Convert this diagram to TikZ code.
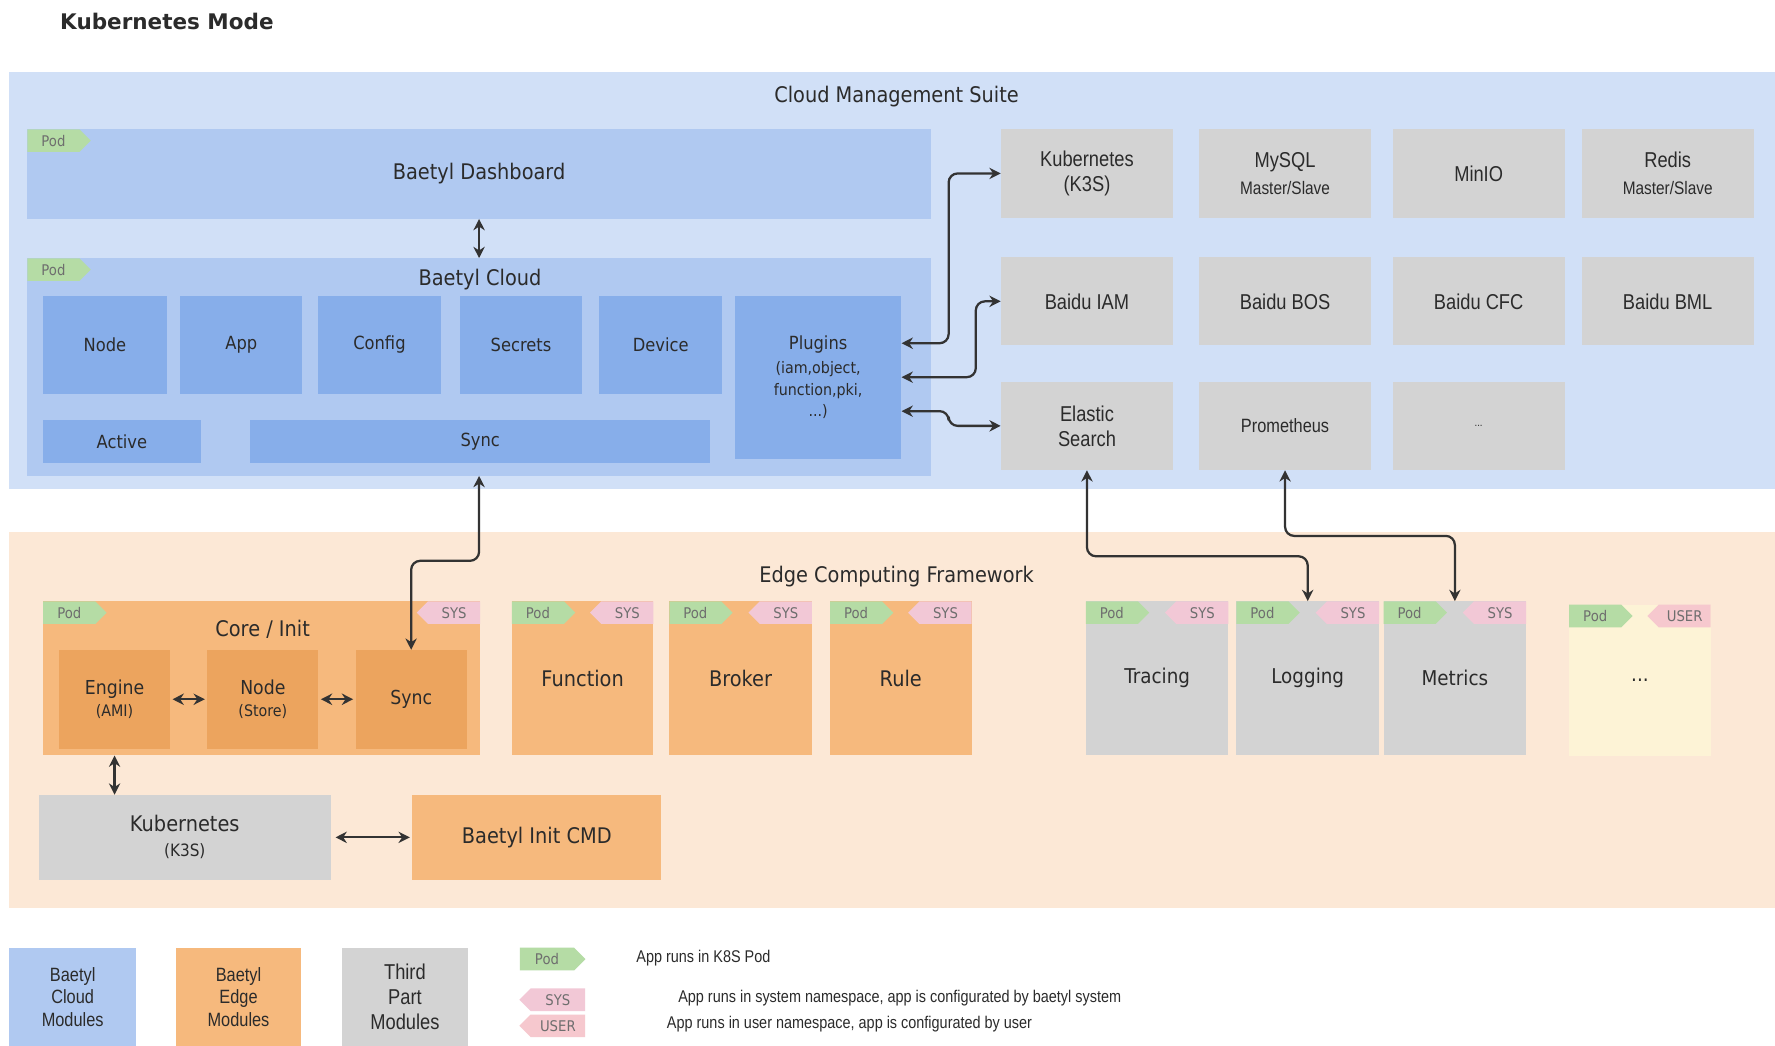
\documentclass[tikz,border=0pt]{standalone}
\usepackage{fontspec}
\setmainfont{DejaVu Sans}[FakeStretch=0.9]
\newfontfamily\titlefont{DejaVu Sans}
\newfontfamily\narrowfont{Liberation Sans}[FakeStretch=0.85]
\usetikzlibrary{arrows.meta,shapes.symbols}

\definecolor{cloudbg}{HTML}{D1E0F7}
\definecolor{blueA}{HTML}{B0C9F1}
\definecolor{blueB}{HTML}{87AEEA}
\definecolor{grayA}{HTML}{D3D3D3}
\definecolor{edgebg}{HTML}{FCE8D6}
\definecolor{orangeA}{HTML}{F6B97D}
\definecolor{orangeB}{HTML}{ECA45E}
\definecolor{paleA}{HTML}{FDF3D6}
\definecolor{podgreen}{HTML}{B5DCA5}
\definecolor{syspink}{HTML}{F2C8D6}
\definecolor{userpink}{HTML}{F6C8CE}
\definecolor{tagtext}{HTML}{6E6E6E}
\definecolor{txt}{HTML}{2B2B2B}
\definecolor{wire}{HTML}{333333}

\newcommand\fsz[2]{\fontsize{#1}{#2}\selectfont}

\begin{document}
\begin{tikzpicture}[x=1pt, y=-1pt,
	box/.style={anchor=north west, inner sep=0pt, align=center, text=txt},
	cbox/.style={box, fill=blueB, font=\fsz{16}{19}},
	gbox/.style={box, fill=grayA, minimum width=152, minimum height=78, font=\narrowfont\fsz{19}{22}},
	obox/.style={box, fill=orangeA, minimum height=136, font=\fsz{19}{22}},
	tbox/.style={box, fill=grayA, minimum height=136, font=\fsz{18}{21}},
	tag/.style={signal, inner sep=0pt, minimum width=56, minimum height=20, text=tagtext, font=\fsz{13}{15}},
	pod/.style={tag, signal to=east, fill=podgreen, anchor=north west},
	sys/.style={tag, signal to=west, fill=syspink, anchor=north east},
	usr/.style={tag, signal to=west, fill=userpink, anchor=north east},
	link/.style={{Stealth[length=10pt,width=10pt]}-{Stealth[length=10pt,width=10pt]}, line width=2pt, draw=wire, rounded corners=8pt},
	lbl/.style={text=txt, inner sep=0pt}]

	\useasboundingbox (0,0) rectangle (1568,924);
	\fill[white] (0,0) rectangle (1568,924);

	\node[lbl, anchor=west, font=\titlefont\bfseries\fsz{19}{22}] (title) at (53,19) {Kubernetes Mode};

	% cloud side
	\node[box, fill=cloudbg, minimum width=1560, minimum height=369] (cloud) at (8,63) {};
	\node[lbl, font=\fsz{19}{22}] (cloudlbl) at (792,85) {Cloud Management Suite};

	\node[box, fill=blueA, minimum width=798, minimum height=79, font=\fsz{19}{22}] (dash) at (24,114) {Baetyl Dashboard};
	\node[pod] (dashpod) at (dash.north west) {Pod};

	\node[box, fill=blueA, minimum width=798, minimum height=192] (bcloud) at (24,228) {};
	\node[pod] (bcloudpod) at (bcloud.north west) {Pod};
	\node[lbl, font=\fsz{19}{22}] (bcloudlbl) at (424,247) {Baetyl Cloud};

	\foreach \n/\x/\w/\t in {cnode/38/109/Node, capp/159/108/App, cconfig/281/108/Config,
		csecrets/406/108/Secrets, cdevice/529/109/Device}
		\node[cbox, minimum width=\w, minimum height=87] (\n) at (\x,261) {\t};
	\node[cbox, minimum width=147, minimum height=144] (plugins) at (649,261)
		{Plugins\\[3pt]{\fsz{14}{17}(iam,object,}\\{\fsz{14}{17}function,pki,}\\{\fsz{14}{17}...)}};
	\node[cbox, minimum width=139, minimum height=38] (active) at (38,371) {Active};
	\node[cbox, minimum width=406, minimum height=38] (csync) at (221,371) {Sync};

	\node[gbox] (k3s) at (884,114) {Kubernetes\\(K3S)};
	\node[gbox] (mysql) at (1059,114) {MySQL\\[2pt]{\fsz{16}{19}Master/Slave}};
	\node[gbox] (minio) at (1230,114) {MinIO};
	\node[gbox] (redis) at (1397,114) {Redis\\[2pt]{\fsz{16}{19}Master/Slave}};
	\node[gbox] (iam) at (884,227) {Baidu IAM};
	\node[gbox] (bos) at (1059,227) {Baidu BOS};
	\node[gbox] (cfc) at (1230,227) {Baidu CFC};
	\node[gbox] (bml) at (1397,227) {Baidu BML};
	\node[gbox] (es) at (884,337) {Elastic\\Search};
	\node[gbox, font=\narrowfont\fsz{17}{20}] (prom) at (1059,337) {Prometheus};
	\node[gbox, font=\narrowfont\fsz{10}{12}] (more) at (1230,337) {...};

	% edge side
	\node[box, fill=edgebg, minimum width=1560, minimum height=332] (edge) at (8,470) {};
	\node[lbl, font=\fsz{19}{22}] (edgelbl) at (792,509) {Edge Computing Framework};

	\node[obox, minimum width=386] (core) at (38,531) {};
	\node[pod] (corepod) at (core.north west) {Pod};
	\node[sys] (coresys) at (core.north east) {SYS};
	\node[lbl, font=\fsz{19}{22}] (corelbl) at (232,556) {Core / Init};
	\node[box, fill=orangeB, minimum width=98, minimum height=87, font=\fsz{17}{19}] (engine) at (52,574)
		{Engine\\{\fsz{14}{17}(AMI)}};
	\node[box, fill=orangeB, minimum width=98, minimum height=87, font=\fsz{17}{19}] (enode) at (183,574)
		{Node\\{\fsz{14}{17}(Store)}};
	\node[box, fill=orangeB, minimum width=98, minimum height=87, font=\fsz{17}{19}] (esync) at (314,574) {Sync};

	\foreach \n/\x/\w/\t in {func/452/125/Function, broker/591/126/Broker, rule/733/125/Rule} {
		\node[obox, minimum width=\w] (\n) at (\x,531) {\t};
		\node[pod] (\n pod) at (\n.north west) {Pod};
		\node[sys] (\n sys) at (\n.north east) {SYS};
	}
	\foreach \n/\x/\t in {tracing/959/Tracing, logging/1092/Logging, metrics/1222/Metrics} {
		\node[tbox, minimum width=126] (\n) at (\x,531) {\t};
		\node[pod] (\n pod) at (\n.north west) {Pod};
		\node[sys] (\n sys) at (\n.north east) {SYS};
	}
	\node[box, fill=paleA, minimum width=125, minimum height=134, font=\fsz{18}{21}] (usermore) at (1386,534) {...};
	\node[pod] (usermorepod) at (usermore.north west) {Pod};
	\node[usr] (usermoreusr) at (usermore.north east) {USER};

	\node[box, fill=grayA, minimum width=258, minimum height=75, font=\fsz{19}{22}] (ek3s) at (34,702)
		{Kubernetes\\{\fsz{15}{19}(K3S)}};
	\node[box, fill=orangeA, minimum width=220, minimum height=75, font=\fsz{19}{22}] (initcmd) at (364,702)
		{Baetyl Init CMD};

	% connectors
	\draw[link] (dash.south) -- (bcloud.north);
	\draw[link] ([yshift=30pt]plugins.east) -| ([xshift=-46pt]k3s.west) -- (k3s.west);
	\draw[link] (plugins.east) -| ([xshift=-22pt]iam.west) -- (iam.west);
	\draw[link] ([yshift=-30pt]plugins.east) -| ([xshift=-46pt]es.west) -- (es.west);
	\draw[link] (bcloud.south) -- ++(0,75) -| (esync.north);
	\draw[link] (es.south) -- ++(0,76) -| (logging.north);
	\draw[link] (prom.south) -- ++(0,58) -| (metrics.north);
	\draw[link, shorten <=2pt, shorten >=2pt] (engine.east) -- (enode.west);
	\draw[link, shorten <=2pt, shorten >=2pt] (enode.east) -- (esync.west);
	\draw[link] (engine.south |- core.south) -- (engine.south |- ek3s.north);
	\draw[link, shorten <=4pt, shorten >=2pt] (ek3s.east) -- (initcmd.west);

	% legend
	\node[box, fill=blueA, minimum width=112, minimum height=87, font=\narrowfont\fsz{17}{20}] (legcloud) at (8,837)
		{Baetyl\\Cloud\\Modules};
	\node[box, fill=orangeA, minimum width=111, minimum height=87, font=\narrowfont\fsz{17}{20}] (legedge) at (155,837)
		{Baetyl\\Edge\\Modules};
	\node[box, fill=grayA, minimum width=111, minimum height=87, font=\narrowfont\fsz{19}{22}] (legthird) at (302,837)
		{Third\\Part\\Modules};
	\node[pod, minimum width=58] (legpod) at (459,837) {Pod};
	\node[sys, minimum width=58] (legsys) at (517,873) {SYS};
	\node[usr, minimum width=58] (legusr) at (517,896) {USER};
	\node[lbl, anchor=west, font=\narrowfont\fsz{15}{18}] (legpodtxt) at (562,846) {App runs in K8S Pod};
	\node[lbl, anchor=west, font=\narrowfont\fsz{15}{18}] (legsystxt) at (599,882)
		{App runs in system namespace, app is configurated by baetyl system};
	\node[lbl, anchor=west, font=\narrowfont\fsz{15}{18}] (legusrtxt) at (589,905)
		{App runs in user namespace, app is configurated by user};
\end{tikzpicture}
\end{document}
